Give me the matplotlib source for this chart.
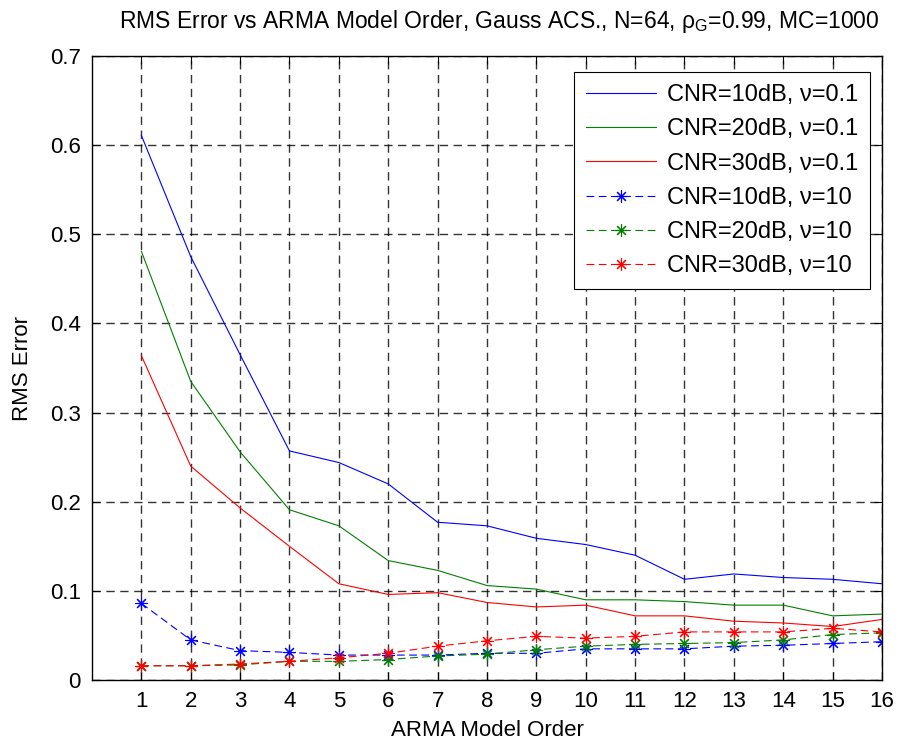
import numpy as np
import matplotlib
matplotlib.use('Agg')
import matplotlib.pyplot as plt

plt.rcParams['font.family'] = ['Liberation Sans', 'DejaVu Sans']
plt.rcParams['mathtext.fontset'] = 'custom'
plt.rcParams['mathtext.rm'] = 'Liberation Sans'
plt.rcParams['mathtext.it'] = 'Liberation Sans'

# 模型阶数
order = np.arange(1, 17)

# nu=0.1 实线
cnr10_nu01 = [0.611, 0.475, 0.365, 0.257, 0.244, 0.220, 0.177, 0.173,
              0.159, 0.152, 0.140, 0.113, 0.119, 0.115, 0.113, 0.108]
cnr20_nu01 = [0.481, 0.335, 0.256, 0.191, 0.173, 0.134, 0.123, 0.106,
              0.102, 0.090, 0.090, 0.088, 0.084, 0.084, 0.072, 0.074]
cnr30_nu01 = [0.364, 0.240, 0.193, 0.150, 0.108, 0.096, 0.098, 0.087,
              0.082, 0.084, 0.072, 0.072, 0.066, 0.064, 0.060, 0.068]

# nu=10 虚线
cnr10_nu10 = [0.086, 0.045, 0.033, 0.031, 0.028, 0.028, 0.028, 0.030,
              0.030, 0.035, 0.035, 0.035, 0.038, 0.039, 0.041, 0.043]
cnr20_nu10 = [0.016, 0.016, 0.017, 0.021, 0.021, 0.023, 0.027, 0.029,
              0.034, 0.038, 0.040, 0.041, 0.042, 0.045, 0.051, 0.053]
cnr30_nu10 = [0.016, 0.016, 0.018, 0.021, 0.025, 0.030, 0.038, 0.044,
              0.049, 0.047, 0.049, 0.054, 0.054, 0.054, 0.058, 0.054]

labels = ['CNR=10dB, ν=0.1', 'CNR=20dB, ν=0.1', 'CNR=30dB, ν=0.1',
          'CNR=10dB, ν=10', 'CNR=20dB, ν=10', 'CNR=30dB, ν=10']

fig = plt.figure(figsize=(8.99, 7.45), dpi=100)
ax = fig.add_axes([0.1023, 0.0872, 0.8788, 0.8376])

star = (8, 2, 0)
ax.plot(order, cnr10_nu01, color='b', lw=0.8, label=labels[0])
ax.plot(order, cnr20_nu01, color='g', lw=0.8, label=labels[1])
ax.plot(order, cnr30_nu01, color='r', lw=0.8, label=labels[2])
ax.plot(order, cnr10_nu10, color='b', lw=0.8, ls=(0, (7, 4)), marker=star, ms=9, mew=0.8, label=labels[3])
ax.plot(order, cnr20_nu10, color='g', lw=0.8, ls=(0, (7, 4)), marker=star, ms=9, mew=0.8, label=labels[4])
ax.plot(order, cnr30_nu10, color='r', lw=0.8, ls=(0, (7, 4)), marker=star, ms=9, mew=0.8, label=labels[5])

ax.set_xlim(0, 16)
ax.set_ylim(0, 0.7)
ax.set_xticks(order)
ax.set_yticks(np.arange(0, 0.71, 0.1))
ax.set_yticklabels(['0', '0.1', '0.2', '0.3', '0.4', '0.5', '0.6', '0.7'])
ax.grid(True, color='k', ls=(0, (6, 4)), lw=1.0, alpha=0.8)
ax.tick_params(direction='in', length=6, top=True, right=True, labelsize=16, pad=8)
for s in ax.spines.values():
    s.set_linewidth(1.0)

ax.set_xlabel('ARMA Model Order', fontsize=16, labelpad=6)
ax.set_ylabel('RMS Error', fontsize=16, labelpad=12)
ax.set_title('RMS Error vs ARMA Model Order, Gauss ACS., N=64, ρ$_\\mathrm{G}$=0.99, MC=1000',
             fontsize=16.5, pad=20, x=0.515)

leg = ax.legend(loc='upper right', bbox_to_anchor=(0.985, 0.974), fontsize=17,
                fancybox=False, framealpha=1, edgecolor='k', handlelength=3.0,
                handletextpad=0.45, borderaxespad=0, labelspacing=0.52, borderpad=0.5)
leg.get_frame().set_linewidth(0.8)

fig.savefig('out.png', dpi=100)
